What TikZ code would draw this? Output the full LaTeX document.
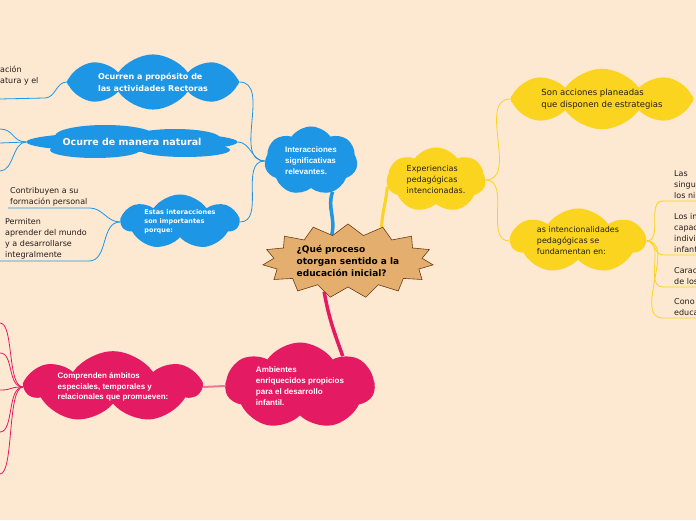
\documentclass[tikz,border=0pt]{standalone}
\usepackage{fontspec}
\setmainfont{DejaVu Sans}
\newfontfamily\arialfont{Liberation Sans}
\usetikzlibrary{shapes.symbols,shapes.geometric,calc}
\definecolor{peach}{RGB}{253,232,209}
\definecolor{ideablue}{RGB}{30,150,230}
\definecolor{ideayellow}{RGB}{250,212,30}
\definecolor{ideapink}{RGB}{228,27,98}
\definecolor{linkpink}{RGB}{240,120,150}
\definecolor{startan}{RGB}{227,174,110}
\definecolor{starbrown}{RGB}{110,60,20}
\definecolor{leafgray}{RGB}{35,30,25}
\pgfdeclarelayer{back}
\pgfdeclarelayer{links}
\pgfsetlayers{back,links,main}

\begin{document}
\begin{tikzpicture}[x=1pt,y=1pt,
    idea/.style={cloud, cloud puffs=7, cloud puff arc=110, cloud ignores aspect, inner sep=0pt, align=left},
    bluecloud/.style={idea, fill=ideablue, text=white, font=\bfseries\fontsize{8}{12}\selectfont},
    yellowcloud/.style={idea, fill=ideayellow, text=leafgray, font=\fontsize{8}{11}\selectfont},
    pinkcloud/.style={idea, fill=ideapink, text=white, font=\arialfont\bfseries\fontsize{8}{10.5}\selectfont},
    leaf/.style={inner xsep=2pt, inner ysep=2pt, align=left, text=leafgray, font=\fontsize{8}{11}\selectfont},
    rleaf/.style={leaf, inner xsep=11pt, text width=60pt, anchor=south west},
    bluelink/.style={draw=ideablue, line width=0.8pt},
    yellowlink/.style={draw=ideayellow, line width=0.8pt},
    pinklink/.style={draw=ideapink, line width=0.8pt}]
    \useasboundingbox (0,0) rectangle (696,520);
    \begin{pgfonlayer}{back}
        \fill[peach] (0,0) rectangle (696,520);
    \end{pgfonlayer}
    \clip (0,0) rectangle (696,520);

    % Central question
    \node[starburst, starburst points=15, starburst point height=11pt, random starburst=0,
          minimum width=171pt, minimum height=74pt, inner sep=0pt,
          fill=startan, draw=starbrown, line width=0.6pt, align=left,
          font=\bfseries\fontsize{9}{12}\selectfont] (q) at (348,259)
        {¿Qué proceso\\otorgan sentido a la\\educación inicial?};

    % Blue branch
    \node[bluecloud, font=\arialfont\bfseries\fontsize{8}{11}\selectfont,
          minimum width=93pt, minimum height=69pt] (inter) at (311,359)
        {Interacciones\\significativas\\relevantes.};
    \node[bluecloud, cloud puffs=8, minimum width=172pt, minimum height=47pt] (ocurren) at (153,438)
        {Ocurren a propósito de\\las actividades Rectoras};
    \node[ellipse, fill=ideablue, text=white, inner sep=0pt,
          font=\bfseries\fontsize{9.5}{12}\selectfont,
          minimum width=211pt, minimum height=20pt] (natural) at (132,378)
        {Ocurre de manera natural};
    \node[bluecloud, font=\bfseries\fontsize{6.5}{9}\selectfont,
          minimum width=117pt, minimum height=55pt] (estas) at (180,298)
        {Estas interacciones\\son importantes\\porque:};
    \node[leaf, inner xsep=0pt, anchor=north west] (acion) at (0,456) {ación\\atura y el};
    \node[leaf, anchor=south west] (contrib) at (8,312) {Contribuyen a su\\formación personal};
    \node[leaf, anchor=south west] (permiten) at (3,259)
        {Permiten\\aprender del mundo\\y a desarrollarse\\integralmente};
    \coordinate (acionend) at (0,421);
    \coordinate (nat1) at (0,391);
    \coordinate (nat2) at (0,377);
    \coordinate (nat3) at (0,349);

    % Yellow branch
    \node[yellowcloud, minimum width=99pt, minimum height=65pt] (exp) at (436,340)
        {Experiencias\\pedagógicas\\intencionadas.};
    \node[yellowcloud, cloud puffs=8, font=\fontsize{8.5}{12}\selectfont,
          minimum width=183pt, minimum height=45pt] (son) at (602,421)
        {Son acciones planeadas\\que disponen de estrategias};
    \node[yellowcloud, minimum width=134pt, minimum height=65pt] (asint) at (578,279)
        {as intencionalidades\\pedagógicas se\\fundamentan en:};
    \node[rleaf] (las) at (663,319) {Las\\singu\\los ni};
    \node[rleaf] (intereses) at (663,265) {Los in\\capac\\indivi\\infant};
    \node[rleaf] (carac) at (663,233) {Carac\\de los};
    \node[rleaf] (cono) at (663,202) {Cono\\educa};

    % Pink branch
    \node[pinkcloud, font=\arialfont\bfseries\fontsize{8}{11}\selectfont,
          minimum width=149pt, minimum height=87pt] (amb) at (300,134)
        {Ambientes\\enriquecidos propicios\\para el desarrollo\\infantil.};
    \node[pinkcloud, minimum width=174pt, minimum height=66pt] (comp) at (113,133)
        {Comprenden ámbitos\\especiales, temporales y\\relacionales que promueven:};
    \coordinate (amb1) at (0,197);
    \coordinate (amb2) at (0,167);
    \coordinate (amb3) at (0,130);
    \coordinate (amb4) at (0,88);
    \coordinate (amb5) at (0,46);

    \begin{pgfonlayer}{links}
        % main branches
        \draw[ideablue, line width=3.5pt] (q.122) to[out=75,in=-110] (inter.-55);
        \draw[ideayellow, line width=3pt] (q.45) to[out=88,in=-95] (exp.188);
        \draw[ideapink, line width=3.5pt] (q.-128) to[out=-80,in=110] (amb.35);
        % blue sub-branches
        \draw[bluelink] (inter.west) to[out=180,in=0] (ocurren.east);
        \draw[bluelink] (inter.west) to[out=180,in=0] (natural.east);
        \draw[bluelink] (inter.west) to[out=180,in=0] (estas.east);
        \draw[bluelink] (ocurren.west) to[out=180,in=0] ++(-22,-16) -- (acionend);
        \foreach \n in {nat1,nat2,nat3}
            \draw[bluelink] (natural.west) .. controls +(-14,0) and +(14,0) .. (\n);
        \draw[bluelink] (estas.west) to[out=180,in=0] (contrib.south east) -- (contrib.south west);
        \draw[bluelink] (estas.west) to[out=180,in=0] (permiten.south east) -- (permiten.south west) -- ++(-5,0);
        % lobes of the flat cloud
        \fill[ideablue] ($(natural)+(-27,6)$) ellipse (50 and 11)
                        ($(natural)+(43,4)$) ellipse (45 and 9)
                        ($(natural)+(-37,-8)$) ellipse (45 and 8)
                        ($(natural)+(53,-8)$) ellipse (45 and 7);
        % yellow sub-branches
        \draw[yellowlink] (exp.east) to[out=0,in=180] (son.west);
        \draw[yellowlink] (exp.east) to[out=0,in=180] (asint.west);
        \foreach \n in {las,intereses,carac,cono}
            \draw[yellowlink] (asint.east) to[out=0,in=180] (\n.south west) -- (\n.south east);
        % pink sub-branches
        \draw[linkpink, line width=2pt] (comp.east) -- (amb.west);
        \foreach \n in {amb1,amb2,amb3,amb4,amb5}
            \draw[pinklink] (comp.west) .. controls +(-16,0) and +(14,0) .. (\n);
    \end{pgfonlayer}
\end{tikzpicture}
\end{document}
